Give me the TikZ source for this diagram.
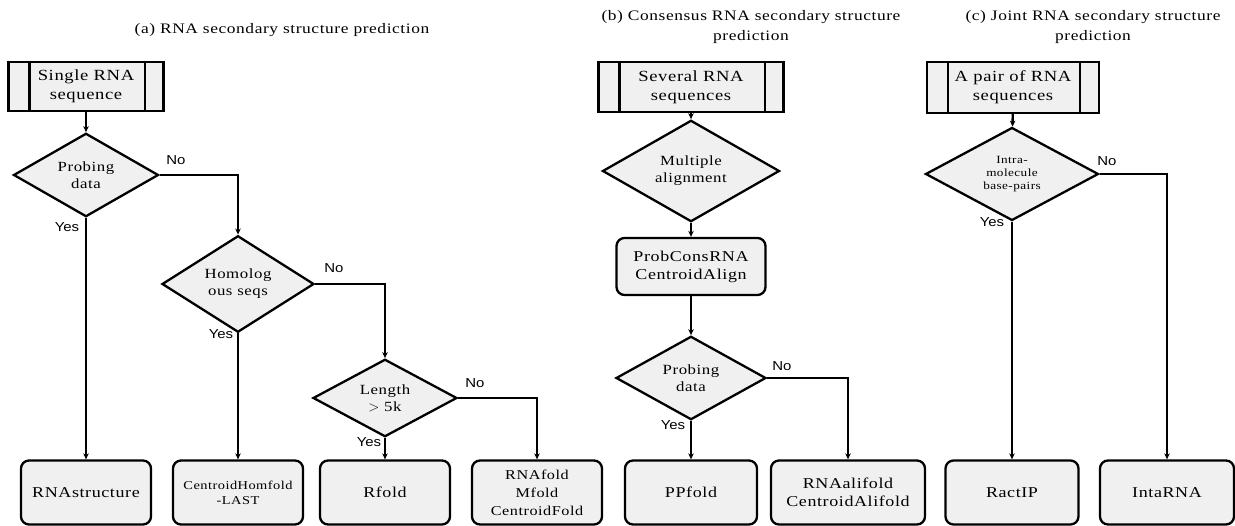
\documentclass[tikz,border=0pt]{standalone}
\usepackage{fontspec}
\setmainfont{Liberation Serif}
\newfontfamily\wideserif[FakeStretch=1.2,LetterSpace=4]{Liberation Serif}
\newfontfamily\labfont[FakeStretch=1.15]{Liberation Sans}
\usetikzlibrary{arrows.meta,shapes.geometric}
\definecolor{boxfill}{HTML}{F0F0F0}
\begin{document}
\begin{tikzpicture}[x=1pt,y=-1pt,
  every node/.style={font=\wideserif\fontsize{15}{18}\selectfont, align=center, inner sep=1pt},
  procbox/.style={draw, line width=2.3pt, fill=boxfill, minimum height=49pt, font=\wideserif\fontsize{15.5}{19}\selectfont},
  endbox/.style={draw, line width=2.3pt, fill=boxfill, rounded corners=8pt, minimum width=130pt, minimum height=64pt},
  decbox/.style={draw, line width=2.3pt, fill=boxfill, diamond, minimum width=145pt, minimum height=70pt, inner sep=0pt, font=\wideserif\fontsize{14}{17}\selectfont},
  arr/.style={line width=2.3pt, -{Stealth[length=6pt,width=5.5pt]}},
  ttl/.style={font=\wideserif\fontsize{14.5}{20}\selectfont},
  lab/.style={font=\labfont\fontsize{13}{14}\selectfont}
]
\useasboundingbox (0,0) rectangle (1235,526);
% titles
\node[ttl] (ta) at (282,30) {(a) RNA secondary structure prediction};
\node[ttl] (tb) at (751,27) {(b) Consensus RNA secondary structure\\prediction};
\node[ttl] (tc) at (1093,27) {(c) Joint RNA secondary structure\\prediction};

% (a)
\node[procbox, minimum width=155pt] (s1) at (86,86.5) {Single RNA\\sequence};
\node[decbox] (pd1) at (86,175) {Probing\\data};
\node[decbox, minimum width=152pt, minimum height=72pt] (hom) at (238,284) {Homolog\\ous seqs};
\node[decbox, minimum width=144pt] (len) at (385,398) {Length\\$>$ 5k};
\node[endbox] (b1) at (86,492.5) {RNAstructure};
\node[endbox, font=\wideserif\fontsize{12}{15}\selectfont] (b2) at (238,492.5) {CentroidHomfold\\-LAST};
\node[endbox] (b3) at (385,492.5) {Rfold};
\node[endbox, font=\wideserif\fontsize{13.5}{18}\selectfont] (b4) at (537,492.5) {RNAfold\\Mfold\\CentroidFold};

% (b)
\node[procbox, minimum width=185pt, minimum height=50pt] (s2) at (691,87) {Several RNA\\sequences};
\node[decbox, minimum width=177pt, minimum height=68pt] (ma) at (691,171) {Multiple\\alignment};
\node[draw, line width=2.3pt, fill=boxfill, rounded corners=8pt, minimum width=149pt, minimum height=57pt] (pc) at (691,266.5) {ProbConsRNA\\CentroidAlign};
\node[decbox, minimum width=150pt, minimum height=68pt] (pd2) at (691,378) {Probing\\data};
\node[endbox, minimum width=132pt] (b5) at (691,492.5) {PPfold};
\node[endbox, minimum width=154pt] (b6) at (848,492.5) {RNAalifold\\CentroidAlifold};

% (c)
\node[procbox, minimum width=172pt, minimum height=51pt] (s3) at (1013,87.5) {A pair of RNA\\sequences};
\node[decbox, minimum width=173pt, minimum height=70pt, font=\wideserif\fontsize{11}{13}\selectfont] (ib) at (1012,174) {Intra-\\molecule\\base-pairs};
\node[endbox, minimum width=133pt] (b7) at (1012,492.5) {RactIP};
\node[endbox, minimum width=134pt] (b8) at (1167,492.5) {IntaRNA};

% inner lines of the process boxes
\foreach \n in {s1,s2,s3}{
  \draw[line width=2.3pt] ([xshift=22pt]\n.north west) -- ([xshift=22pt]\n.south west);
  \draw[line width=2.3pt] ([xshift=-20pt]\n.north east) -- ([xshift=-20pt]\n.south east);
}

% connectors (a)
\draw[arr] (s1) -- (pd1);
\draw[arr] (pd1.east) -| (hom.north);
\draw[arr] (pd1.south) -- (b1.north);
\draw[arr] (hom.east) -| (len.north);
\draw[arr] (hom.south) -- (b2.north);
\draw[arr] (len.east) -| (b4.north);
\draw[arr] (len.south) -- (b3.north);
% connectors (b)
\draw[arr] (s2) -- (ma);
\draw[arr] (ma) -- (pc);
\draw[arr] (pc) -- (pd2);
\draw[arr] (pd2.south) -- (b5.north);
\draw[arr] (pd2.east) -| (b6.north);
% connectors (c)
\draw[arr] (s3) -- (ib);
\draw[arr] (ib.south) -- (b7.north);
\draw[arr] (ib.east) -| (b8.north);

% labels
\node[lab] (n1) at (176,160) {No};
\node[lab] (y1) at (67,227) {Yes};
\node[lab] (n2) at (334,268) {No};
\node[lab] (y2) at (221,334) {Yes};
\node[lab] (n3) at (475,383) {No};
\node[lab] (y3) at (369,442) {Yes};
\node[lab] (n4) at (782,366) {No};
\node[lab] (y4) at (673,425) {Yes};
\node[lab] (n5) at (1107,161) {No};
\node[lab] (y5) at (992,222) {Yes};
\end{tikzpicture}
\end{document}
